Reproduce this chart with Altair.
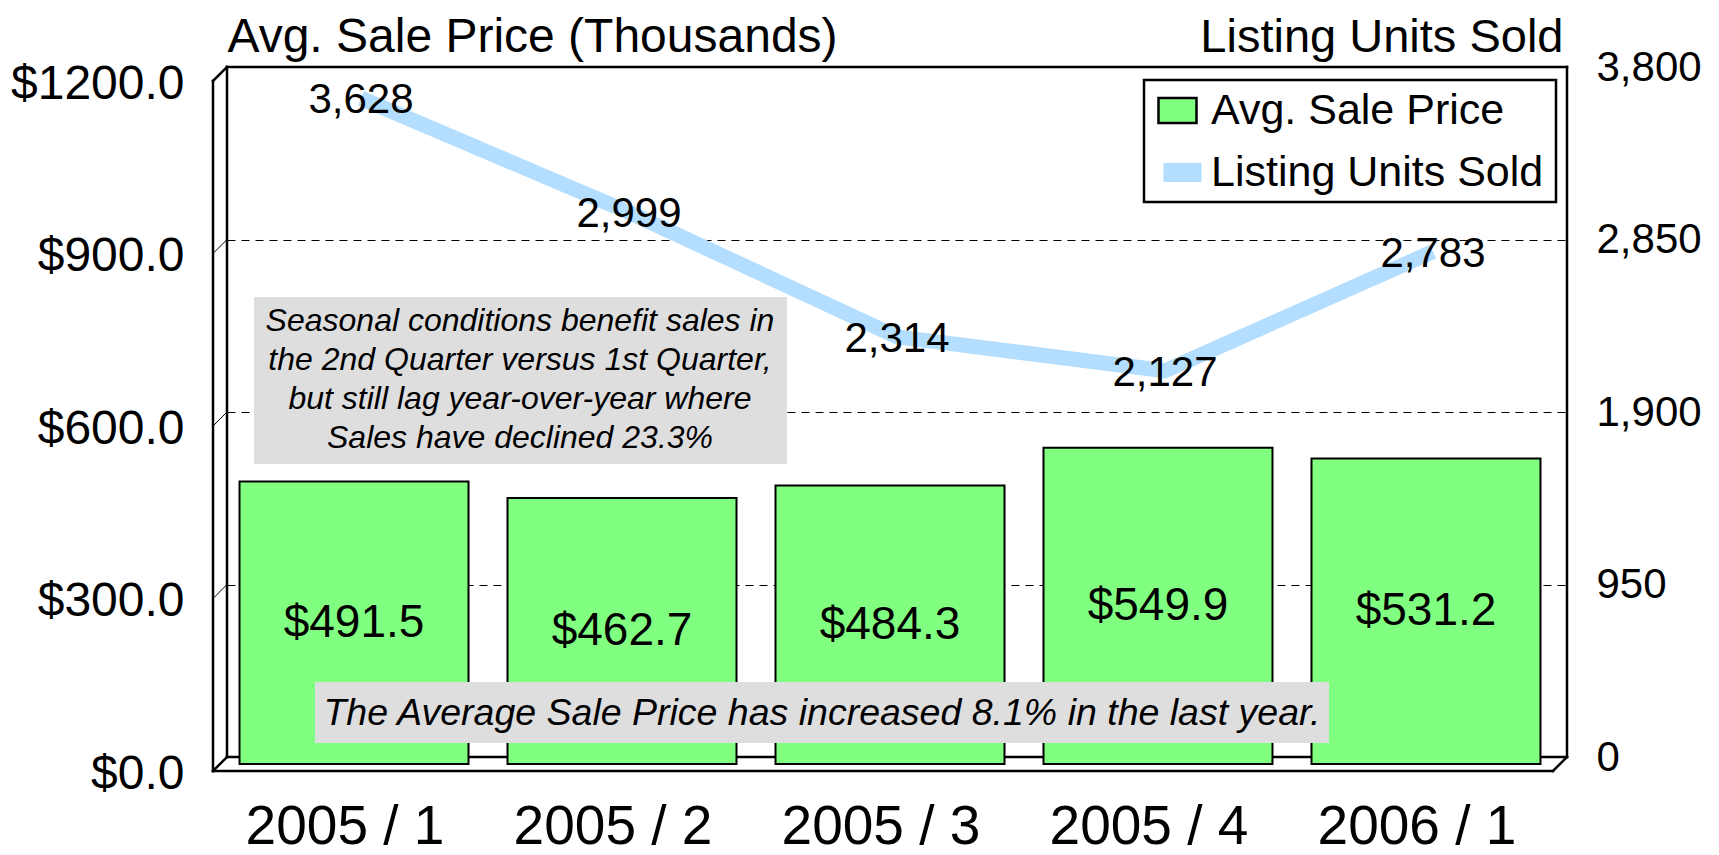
import altair as alt
import pandas as pd

# ---- data ----
quarters = ["2005 / 1", "2005 / 2", "2005 / 3", "2005 / 4", "2006 / 1"]
avg_price = [491.5, 462.7, 484.3, 549.9, 531.2]
units_sold = [3628, 2999, 2314, 2127, 2783]
price_ticks = [0, 300, 600, 900, 1200]
unit_ticks = [0, 950, 1900, 2850, 3800]
series_names = ["Avg. Sale Price", "Listing Units Sold"]
note_top = [
    "Seasonal conditions benefit sales in",
    "the 2nd Quarter versus 1st Quarter,",
    "but still lag year-over-year where",
    "Sales have declined 23.3%",
]
note_bottom = "The Average Sale Price has increased 8.1% in the last year."

# ---- style ----
W, H = 1340, 690
DEPTH = 14
FONT = "Liberation Sans"
NARROW = "Liberation Sans Narrow, Arial Narrow, Liberation Sans"
GREEN = "#80FF80"
BLUE = "#B3DEFF"
GREY = "#DEDEDE"

df = pd.DataFrame({"quarter": quarters, "price": avg_price, "units": units_sold})
one = alt.Data(values=[{}])


def seg(x1, y1, x2, y2, w=2.5):
    return alt.Chart(one).mark_rule(color="black", strokeWidth=w, strokeCap="square").encode(
        x=alt.value(x1), y=alt.value(y1), x2=alt.value(x2), y2=alt.value(y2)
    )


frame = [
    seg(0, 0, W, 0),
    seg(0, 0, 0, H),
    seg(W, 0, W, H),
    seg(0, H, W, H),
    seg(-DEPTH, DEPTH, -DEPTH, H + DEPTH),
    seg(-DEPTH, H + DEPTH, W - DEPTH, H + DEPTH),
    seg(-DEPTH, DEPTH, 0, 0),
    seg(-DEPTH, H + DEPTH, 0, H),
    seg(W - DEPTH, H + DEPTH, W, H),
]

price_scale = alt.Scale(domain=[0, 1200], nice=False, zero=True)
unit_scale = alt.Scale(domain=[0, 3800], nice=False, zero=True)

x_axis = alt.Axis(
    title=None, labelAngle=0, labelFont=NARROW, labelFontSize=55, labelColor="black",
    domain=False, ticks=False, grid=False, labelPadding=86, labelBaseline="alphabetic",
    labelOffset=-16, labelLimit=0,
)
x_enc = alt.X(
    "quarter:N", sort=quarters,
    scale=alt.Scale(paddingInner=0.1455, paddingOuter=0.0728),
    axis=x_axis,
)

left_axis = alt.Axis(
    values=price_ticks, format="$.1f", orient="left", domain=False, ticks=False,
    grid=True, gridColor="black", gridDash=[8, 6], gridWidth=1.2, gridOpacity=1,
    labelFont=FONT, labelFontSize=48, labelColor="black", labelPadding=43,
    labelOffset=17, labelFlush=False, labelOverlap=False, labelLimit=0,
    title="Avg. Sale Price (Thousands)", titleFont=FONT, titleFontSize=48,
    titleFontWeight="normal", titleColor="black", titleAngle=0, titleAlign="left",
    titleBaseline="alphabetic", titleX=0, titleY=-16, titleLimit=0,
)
right_axis = alt.Axis(
    values=unit_ticks, format=",d", orient="right", domain=False, ticks=False,
    grid=False, labelFont=FONT, labelFontSize=42, labelColor="black", labelPadding=29,
    labelFlush=False, labelOverlap=False, labelLimit=0,
    title="Listing Units Sold", titleFont=FONT, titleFontSize=47,
    titleFontWeight="normal", titleColor="black", titleAngle=0, titleAlign="right",
    titleBaseline="alphabetic", titleX=-4, titleY=-16, titleLimit=0,
)

# small diagonal gridline stubs on the left side wall
diag = alt.Chart(pd.DataFrame({"t": price_ticks[1:-1]})).mark_rule(
    color="black", strokeWidth=1, yOffset=DEPTH
).encode(
    x=alt.value(-DEPTH), x2=alt.value(0),
    y=alt.Y("t:Q", scale=price_scale, axis=None), y2="t:Q",
)

# annotation box 1
box1 = alt.Chart(one).mark_rect(color=GREY).encode(
    x=alt.value(27), x2=alt.value(560), y=alt.value(230), y2=alt.value(397)
)
box1_text = alt.Chart(one).mark_text(
    text=note_top, font=FONT, fontSize=32, fontStyle="italic", color="black",
    align="center", baseline="middle", lineHeight=39,
).encode(x=alt.value(293), y=alt.value(254))

# bars
bars = alt.Chart(df).transform_calculate(
    series=f"'{series_names[0]}'"
).mark_bar(
    stroke="black", strokeWidth=2, xOffset=-7, x2Offset=-7, yOffset=7, y2Offset=7
).encode(
    x=x_enc,
    y=alt.Y("price:Q", scale=price_scale, axis=left_axis),
    fill=alt.Fill(
        "series:N",
        scale=alt.Scale(domain=[series_names[0]], range=[GREEN]),
        legend=alt.Legend(
            orient="none", legendX=929, legendY=22, title=None, padding=0,
            labelFont=FONT, labelFontSize=43, labelColor="black", labelOffset=12,
            labelLimit=0,
            symbolType="M-1,-0.66H1V0.66H-1Z", symbolSize=1444,
            symbolStrokeColor="black", symbolStrokeWidth=2.5, symbolOpacity=1,
        ),
    ),
)
bar_text = alt.Chart(df).transform_calculate(mid="datum.price / 2").mark_text(
    font=FONT, fontSize=46, color="black", dx=-7, dy=7, baseline="middle"
).encode(
    x=x_enc,
    y=alt.Y("mid:Q", scale=price_scale, axis=left_axis),
    text=alt.Text("price:Q", format="$.1f"),
)
bar_layer = alt.layer(bars, bar_text)

# annotation box 2
box2 = alt.Chart(one).mark_rect(color=GREY).encode(
    x=alt.value(88), x2=alt.value(1102), y=alt.value(615), y2=alt.value(676)
)
box2_text = alt.Chart(one).mark_text(
    text=note_bottom, font=FONT, fontSize=37.5, fontStyle="italic", color="black",
    align="center", baseline="middle",
).encode(x=alt.value(595), y=alt.value(647))

# line
line = alt.Chart(df).transform_calculate(
    series=f"'{series_names[1]}'"
).mark_line(strokeWidth=15).encode(
    x=x_enc,
    y=alt.Y("units:Q", scale=unit_scale, axis=right_axis),
    stroke=alt.Stroke(
        "series:N",
        scale=alt.Scale(domain=[series_names[1]], range=[BLUE]),
        legend=alt.Legend(
            orient="none", legendX=927, legendY=77, title=None, padding=0,
            labelFont=FONT, labelFontSize=43, labelColor="black", labelOffset=0,
            labelLimit=0,
            symbolType="stroke", symbolSize=1444, symbolStrokeWidth=19, symbolOpacity=1,
        ),
    ),
)
line_text = alt.Chart(df).mark_text(
    font=FONT, fontSize=42, color="black", baseline="middle", dy=2
).encode(
    x=x_enc,
    y=alt.Y("units:Q", scale=unit_scale, axis=right_axis),
    text=alt.Text("units:Q", format=",d"),
)
line_layer = alt.layer(line, line_text)

legend_box = alt.Chart(one).mark_rect(fill="white", stroke="black", strokeWidth=2.5).encode(
    x=alt.value(917), x2=alt.value(1329), y=alt.value(13), y2=alt.value(135)
)

chart = alt.layer(
    *frame, diag, box1, box1_text, bar_layer, box2, box2_text, line_layer, legend_box
).resolve_scale(
    y="independent"
).properties(
    width=W, height=H,
    autosize=alt.AutoSizeParams(type="none"),
    padding={"left": 219, "top": 59, "right": 140, "bottom": 98},
).configure_view(strokeWidth=0)

chart.save("out.html", embed_options={"renderer": "svg", "actions": False})
